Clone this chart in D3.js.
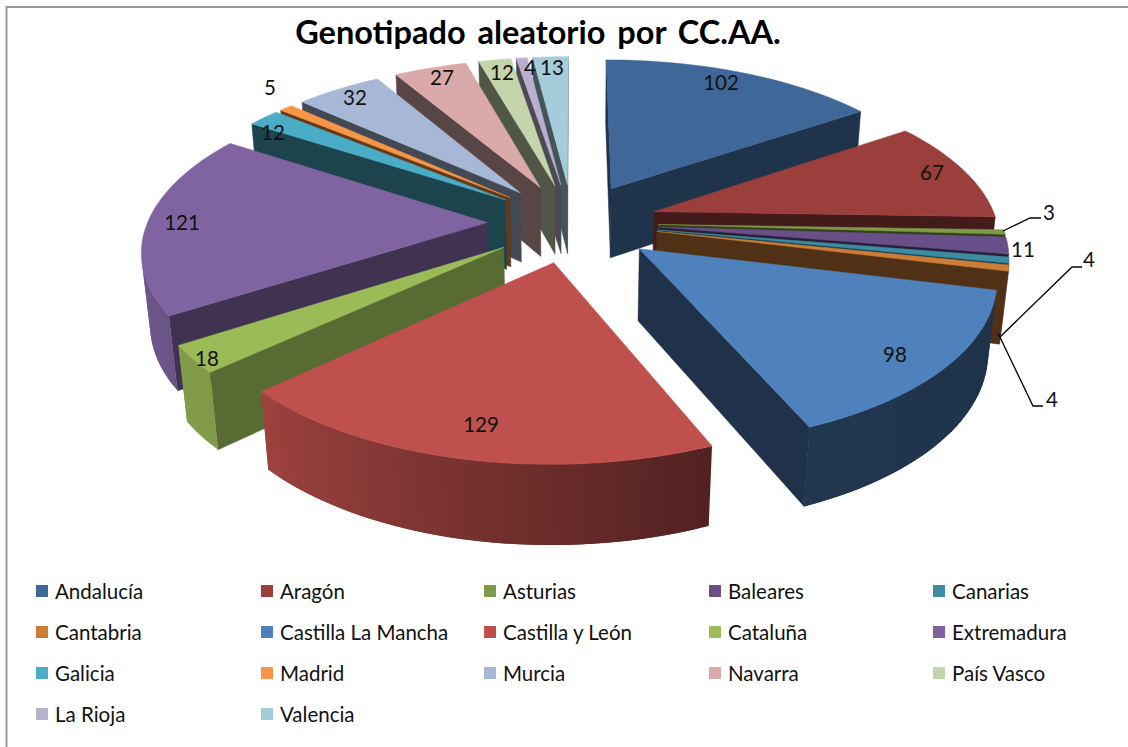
<!DOCTYPE html>
<html>
<head>
<meta charset="utf-8">
<script src="https://cdn.jsdelivr.net/npm/d3@7"></script>
<style>
  html, body { margin: 0; padding: 0; background: #fff; }
  svg { display: block; }
  text { font-family: Lato, "Open Sans", sans-serif; fill: #111; }
</style>
</head>
<body>
<div id="chart"></div>
<script>
const categories = ["Andalucía", "Aragón", "Asturias", "Baleares", "Canarias", "Cantabria",
  "Castilla La Mancha", "Castilla y León", "Cataluña", "Extremadura", "Galicia", "Madrid",
  "Murcia", "Navarra", "País Vasco", "La Rioja", "Valencia"];
const values = [102, 67, 3, 11, 4, 4, 98, 129, 18, 121, 12, 5, 32, 27, 12, 4, 13];
const colors = ["#3f6797", "#9b3f3d", "#7f9a48", "#684f87", "#3c8da3", "#cc7d38", "#4f81bd",
  "#c0504d", "#9bbb59", "#8064a2", "#4bacc6", "#f79646", "#a7b8d6", "#d9aaa9", "#c5d5ab",
  "#b9b0cd", "#a5ccda"];

const width = 1128, height = 747;

// pie geometry, fitted to the picture
const center = {x: 572.5, y: 222.6};
const radiusLeft = 340, radiusRight = 343, radiusY = 157.8, depth = 72;
const explode = 0.25, persp = 0.151, perspDepth = 0.02;

// label centres, same order as categories
const labelPos = [[721, 83], [932, 173], [1049, 213], [1023, 250], [1089, 260], [1052, 400],
  [895, 355], [481, 425], [207, 359], [182, 223], [273, 133], [270, 88], [355, 98],
  [442, 78], [502, 73], [530, 68], [552, 68]];
const leaders = [
  [[1003, 231], [1030, 218], [1041, 218]],
  [[1000, 337], [1072, 267], [1082, 267]],
  [[998, 333], [1033, 406], [1043, 406]]
];

const legendCols = [36, 261, 484, 709, 933];
const legendRows = [591, 632, 673, 714];

const svg = d3.select("#chart").append("svg")
  .attr("width", width).attr("height", height);

// chart frame is cropped on the right and bottom
svg.append("path").attr("d", "M6.5," + height + "V7H" + width)
  .attr("fill", "none").attr("stroke", "#9a9a9a").attr("stroke-width", 2);

svg.append("text").attr("x", 538).attr("y", 44)
  .attr("text-anchor", "middle")
  .style("font-size", "32.5px").style("font-weight", "700").style("word-spacing", "4px")
  .style("fill", "#000")
  .text("Genotipado aleatorio por CC.AA.");

const x = d3.scaleLinear().domain([-1, 0, 1]).range([-radiusLeft, 0, radiusRight]);
const y = d3.scaleLinear().domain([0, 1]).range([0, radiusY]);
const z = d3.scaleLinear().domain([0, 1]).range([0, depth]);
// how dark the walls get depending on where they face (degrees clockwise from the back)
const rimShade = d3.scaleLinear().domain([90, 157, 227, 300]).range([0.38, 0.42, 0.82, 0.92]).clamp(true);
const wallShade = d3.scaleLinear().domain([27, 73, 100, 130, 232, 270, 306, 345])
  .range([0.5, 0.43, 0.39, 0.39, 0.57, 0.5, 0.39, 0.41]).clamp(true);

function project(wx, wy, h) {
  let s = 1 / (1 - persp * wy + perspDepth * h);
  return [center.x + x(wx) * s, center.y + (y(wy) + z(h)) * s];
}

function shade(c, k) {
  let col = d3.rgb(c);
  return d3.rgb(col.r * k, col.g * k, col.b * k).formatHex();
}

const pie = d3.pie().sort(null).value(d => d.value);
const arcs = pie(categories.map((name, i) => ({name: name, value: values[i], color: colors[i]})));

arcs.forEach(a => {
  a.mid = (a.startAngle + a.endAngle) / 2;
  a.ox = explode * Math.sin(a.mid);
  a.oy = -explode * Math.cos(a.mid);
});

// painter's order, back of the pie first
const ordered = arcs.slice().sort((a, b) => a.oy - b.oy);

const line = d3.line();

function rimPoint(a, t, h) {
  return project(a.ox + Math.sin(t), a.oy - Math.cos(t), h);
}

function facing(pts) {
  return d3.polygonArea(pts) > 0;
}

const slices = svg.append("g").selectAll("g").data(ordered).enter().append("g");

slices.each(function(a) {
  let g = d3.select(this);
  let apexT = project(a.ox, a.oy, 0), apexB = project(a.ox, a.oy, 1);
  let steps = Math.max(2, Math.ceil((a.endAngle - a.startAngle) / 0.03));
  let stepSize = (a.endAngle - a.startAngle) / steps;
  let angles = d3.range(steps + 1).map(i => a.startAngle + stepSize * i);
  let wallColor = shade(a.data.color, wallShade(a.mid * 180 / Math.PI));

  // radial walls
  let startWall = [apexT, rimPoint(a, a.startAngle, 0), rimPoint(a, a.startAngle, 1), apexB];
  let endWall = [apexT, apexB, rimPoint(a, a.endAngle, 1), rimPoint(a, a.endAngle, 0)];
  [startWall, endWall].forEach(w => {
    if (facing(w)) {
      g.append("path").attr("d", line(w) + "Z")
        .attr("fill", wallColor).attr("stroke", wallColor).attr("stroke-width", 0.5);
    }
  });

  // outer wall, each strip runs under the next one so no seams show
  d3.pairs(angles).forEach(p => {
    let stop = Math.min(p[1] + stepSize, a.endAngle);
    let strip = [rimPoint(a, p[0], 0), rimPoint(a, stop, 0), rimPoint(a, stop, 1), rimPoint(a, p[0], 1)];
    if (facing(strip)) {
      let c = shade(a.data.color, rimShade((p[0] + p[1]) / 2 * 180 / Math.PI));
      g.append("path").attr("d", line(strip) + "Z").attr("fill", c);
    }
  });

  // top face
  let top = [apexT].concat(angles.map(t => rimPoint(a, t, 0)));
  g.append("path").attr("d", line(top) + "Z").attr("fill", a.data.color)
    .attr("stroke", a.data.color).attr("stroke-width", 0.5);
});

svg.append("g").selectAll("path").data(leaders).enter().append("path")
  .attr("d", d => line(d)).attr("fill", "none")
  .attr("stroke", "#000").attr("stroke-width", 1.3);

svg.append("g").selectAll("text").data(values).enter().append("text")
  .attr("x", (d, i) => labelPos[i][0]).attr("y", (d, i) => labelPos[i][1])
  .attr("dy", "0.35em").attr("text-anchor", "middle")
  .style("font-size", "20.5px")
  .text(d => d);

const legend = svg.append("g").selectAll("g").data(arcs).enter().append("g")
  .attr("transform", (d, i) => "translate(" + legendCols[i % 5] + "," + legendRows[Math.floor(i / 5)] + ")");
legend.append("rect").attr("x", 0).attr("y", -6).attr("width", 12).attr("height", 12)
  .attr("fill", d => d.data.color);
legend.append("text").attr("x", 19).attr("y", 1).attr("dy", "0.35em")
  .style("font-size", "20.5px")
  .text(d => d.data.name);
</script>
</body>
</html>
